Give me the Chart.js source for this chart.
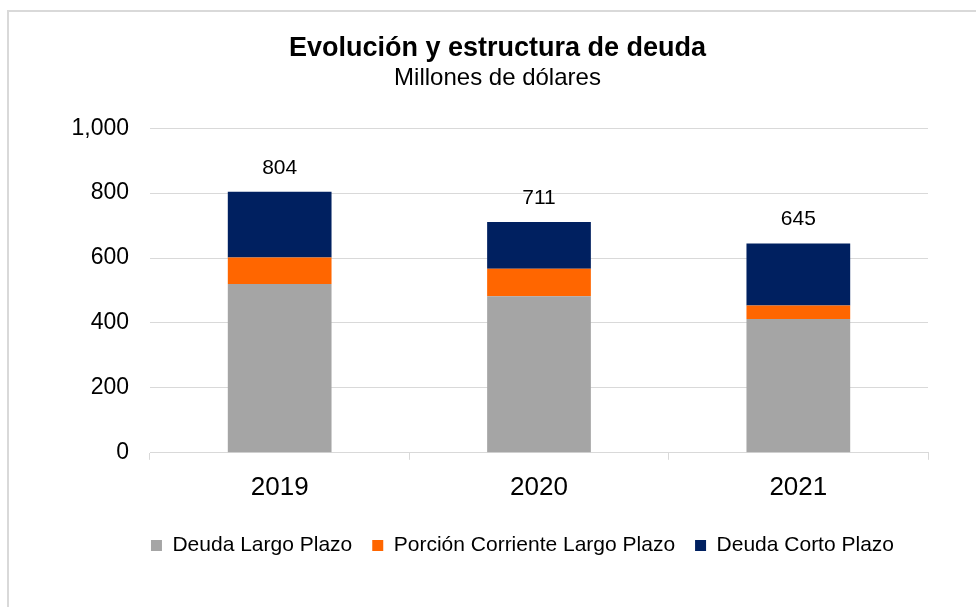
<!DOCTYPE html>
<html>
<head>
<meta charset="utf-8">
<script src="https://cdn.jsdelivr.net/npm/chart.js@4/dist/chart.umd.min.js"></script>
<style>
	body { margin: 0; background: #fff; overflow: hidden; }
	#frame { position: absolute; left: 7px; top: 10px; width: 1000px; height: 640px; border: 2px solid #d9d9d9; }
	#wrap { position: absolute; left: 0; top: 0; width: 976px; height: 607px; }
</style>
</head>
<body>
<div id="frame"></div>
<div id="wrap"><canvas id="chart"></canvas></div>
<script>
const years = ["2019", "2020", "2021"]
const largoPlazo = [520, 482, 412]
const porcionCorriente = [82, 85, 42]
const cortoPlazo = [202, 144, 191]
const totales = [804, 711, 645]
const yTicks = [0, 200, 400, 600, 800, 1000]

const font = "'Liberation Sans', Arial, sans-serif"

// totals above each stack
const totalLabels = {
	id: "totalLabels",
	afterLayout(chart) {
		// nudge the legend row a bit to the left
		chart.legend.right = chart.chartArea.right - 14
	},
	afterDatasetsDraw(chart) {
		const ctx = chart.ctx
		const x = chart.scales.x
		const y = chart.scales.y
		ctx.save()
		ctx.font = "21px " + font
		ctx.fillStyle = "#000"
		ctx.textAlign = "center"
		ctx.textBaseline = "middle"
		totales.forEach((t, i) => {
			ctx.fillText(t.toLocaleString("en-US"), x.getPixelForValue(i), y.getPixelForValue(t) - 24)
		})
		ctx.restore()
	}
}

new Chart(document.getElementById("chart"), {
	type: "bar",
	data: {
		labels: years,
		datasets: [
			{ label: "Deuda Largo Plazo", data: largoPlazo, backgroundColor: "#a5a5a5" },
			{ label: "Porción Corriente Largo Plazo", data: porcionCorriente, backgroundColor: "#ff6600" },
			{ label: "Deuda Corto Plazo", data: cortoPlazo, backgroundColor: "#002060" }
		]
	},
	options: {
		responsive: true,
		maintainAspectRatio: false,
		animation: false,
		layout: { padding: { left: 67, right: 48, top: 0, bottom: 41 } },
		datasets: { bar: { categoryPercentage: 1, barPercentage: 0.4 } },
		scales: {
			x: {
				stacked: true,
				grid: { drawOnChartArea: false, color: "#d9d9d9", tickLength: 7 },
				border: { color: "#d9d9d9" },
				ticks: { color: "#000", font: { family: font, size: 26 }, padding: 12 }
			},
			y: {
				stacked: true,
				min: 0,
				max: 1000,
				afterBuildTicks: axis => { axis.ticks = yTicks.map(v => ({ value: v })) },
				afterFit: axis => { axis.width = 83 },
				grid: { color: "#d9d9d9", drawTicks: false },
				border: { display: false },
				ticks: { color: "#000", font: { family: font, size: 23 }, padding: 21 }
			}
		},
		plugins: {
			title: {
				display: true,
				text: "Evolución y estructura de deuda",
				color: "#000",
				font: { family: font, size: 27, weight: "bold" },
				padding: { top: 32, bottom: 0 }
			},
			subtitle: {
				display: true,
				text: "Millones de dólares",
				color: "#000",
				font: { family: font, size: 24, weight: "normal" },
				padding: { top: 0, bottom: 35 }
			},
			legend: {
				position: "bottom",
				align: "end",
				labels: { color: "#000", font: { family: font, size: 21 }, boxWidth: 11, boxHeight: 11, padding: 20 }
			},
			tooltip: { enabled: false }
		}
	},
	plugins: [totalLabels]
})
</script>
</body>
</html>
